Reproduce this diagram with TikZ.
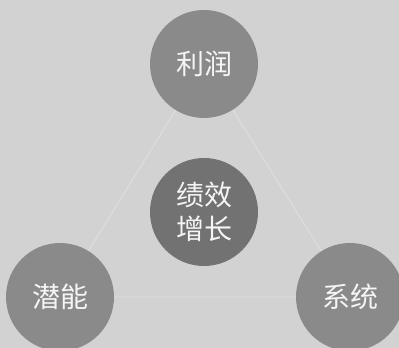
\documentclass[tikz,border=0pt]{standalone}
\usepackage{fontspec}
\newfontfamily\cjk{Noto Sans CJK SC}
\definecolor{bg}{HTML}{D2D2D2}
\definecolor{outer}{HTML}{8A8A8A}
\definecolor{inner}{HTML}{727272}
\definecolor{edge}{HTML}{E0E0E0}
\begin{document}
\begin{tikzpicture}[x=1pt,y=1pt,
  ball/.style={circle,minimum size=108pt,inner sep=0pt,text=white!92!gray,font=\cjk\fontsize{28}{34}\selectfont,align=center},
  link/.style={edge,line width=0.8pt}]
\fill[bg] (0,0) rectangle (399,348);
\useasboundingbox (0,0) rectangle (399,348);
\coordinate (ct) at (204,284);
\coordinate (cl) at (60,51);
\coordinate (cr) at (350,51);
\draw[link] (ct) -- (cl) -- (cr) -- cycle;
\node[ball,fill=outer] (top) at (ct) {利润};
\node[ball,fill=outer] (left) at (cl) {潜能};
\node[ball,fill=outer] (right) at (cr) {系统};
\node[ball,fill=inner] (mid) at (204,136) {绩效\\增长};
\end{tikzpicture}
\end{document}
